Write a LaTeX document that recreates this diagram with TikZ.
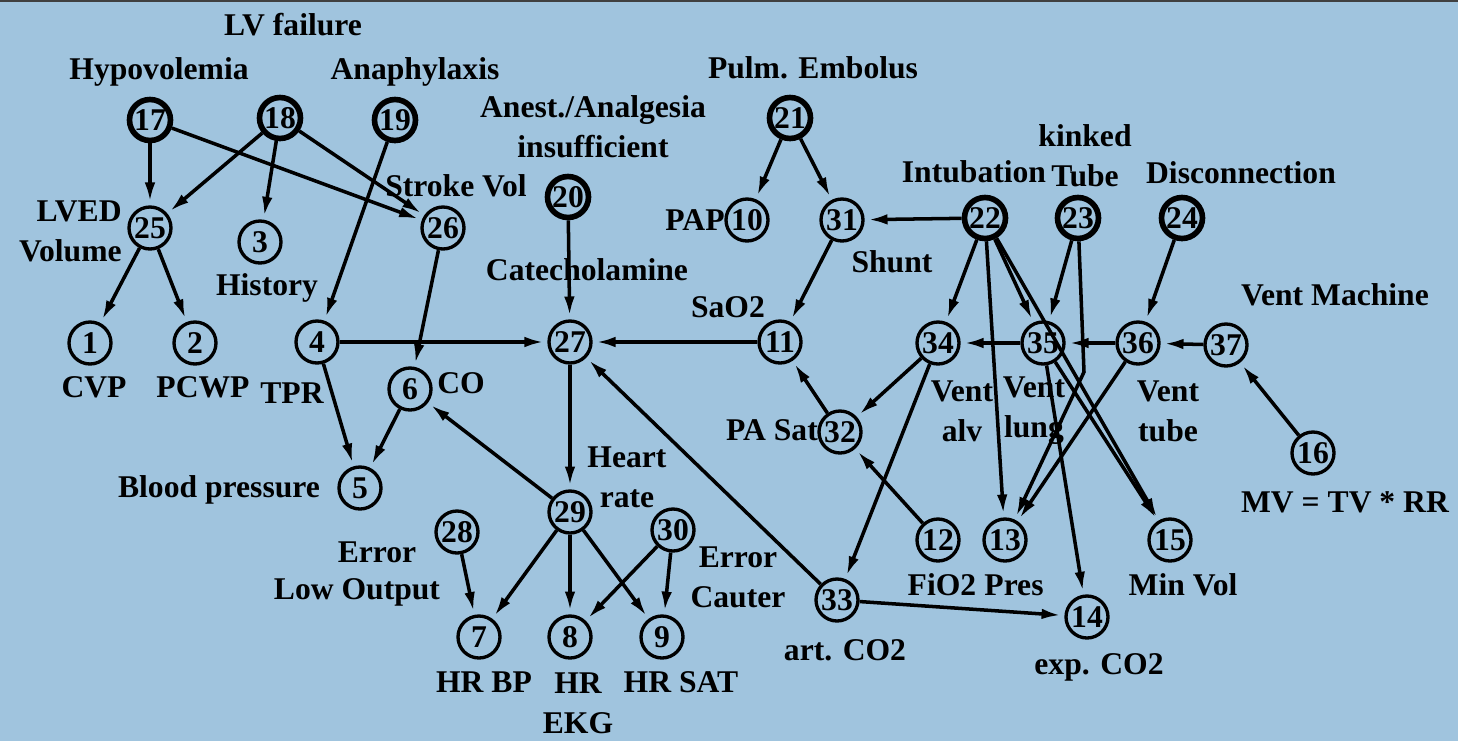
\documentclass[tikz,border=0pt]{standalone}
\usepackage{fontspec}
\setmainfont{Liberation Serif}
\usetikzlibrary{arrows.meta}
\definecolor{scanblue}{RGB}{160,196,222}
\newcommand{\lblfont}{\fontsize{18}{22.7}\selectfont\bfseries}
\newcommand{\numfont}{\fontsize{18}{20}\selectfont\bfseries}
\tikzset{
  root/.style={circle,draw,line width=3.2pt,minimum size=0.82cm,inner sep=0pt,font=\numfont},
  var/.style={circle,draw,line width=1.9pt,minimum size=0.84cm,inner sep=0pt,font=\numfont},
  lbl/.style={inner sep=0pt,font=\lblfont},
  arr/.style={->,line width=2pt,shorten >=2pt},
  >={Latex[length=11pt,width=6pt]}
}

\begin{document}
\begin{tikzpicture}[x=0.02cm,y=-0.02cm]
    % paper
    \useasboundingbox (0,0) rectangle (1458,741);
    \fill[scanblue] (0,0) rectangle (1458,741);
    \draw[black!75,line width=1.2pt] (0,1) -- (1458,1);
    % root causes
    \node[root] (v17) at (150,120) {17};
    \node[root] (v18) at (280,118) {18};
    \node[root] (v19) at (395,120) {19};
    \node[root] (v20) at (568,197) {20};
    \node[root] (v21) at (790,118) {21};
    \node[root] (v22) at (985,218) {22};
    \node[root] (v23) at (1078,218) {23};
    \node[root] (v24) at (1182,218) {24};
    % heart side
    \node[var] (v25) at (150,228) {25};
    \node[var] (v26) at (443,228) {26};
    \node[var] (v3) at (260,242) {3};
    \node[var] (v1) at (90,343) {1};
    \node[var] (v2) at (195,343) {2};
    \node[var] (v4) at (317,342) {4};
    \node[var] (v6) at (410,389) {6};
    \node[var] (v5) at (360,488) {5};
    \node[var] (v27) at (570,342) {27};
    \node[var] (v29) at (570,512) {29};
    \node[var] (v28) at (457,532) {28};
    \node[var] (v30) at (673,530) {30};
    \node[var] (v7) at (479,637) {7};
    \node[var] (v8) at (570,637) {8};
    \node[var] (v9) at (662,637) {9};
    % lung side
    \node[var] (v10) at (747,220) {10};
    \node[var] (v31) at (842,220) {31};
    \node[var] (v11) at (780,342) {11};
    \node[var] (v32) at (840,432) {32};
    \node[var] (v33) at (837,600) {33};
    \node[var] (v12) at (938,540) {12};
    \node[var] (v13) at (1005,540) {13};
    \node[var] (v14) at (1087,617) {14};
    \node[var] (v15) at (1170,540) {15};
    \node[var] (v34) at (938,343) {34};
    \node[var] (v35) at (1043,343) {35};
    \node[var] (v36) at (1138,343) {36};
    \node[var] (v37) at (1226,345) {37};
    \node[var] (v16) at (1313,453) {16};
    \coordinate (k23) at (1084,372);

    % names
    \node[lbl] (tLVF) at (293,25) {LV failure};
    \node[lbl] (tHypo) at (159,72) {Hypovolemia};
    \node[lbl] (tAna) at (415,72) {Anaphylaxis};
    \node[lbl,align=center] (tAnest) at (593,127) {Anest./Analgesia\\insufficient};
    \node[lbl] (tPE) at (813,68) {Pulm. Embolus};
    \node[lbl,align=center] (tKink) at (1085,156) {kinked\\Tube};
    \node[lbl] (tIntub) at (974,172) {Intubation};
    \node[lbl] (tDisc) at (1241,173) {Disconnection};
    \node[lbl] (tVMach) at (1335,295) {Vent Machine};
    \node[lbl,align=right,anchor=east] (tLVED) at (122,231) {LVED\\Volume};
    \node[lbl] (tSV) at (456,186) {Stroke Vol};
    \node[lbl] (tHist) at (267,288) {History};
    \node[lbl] (tCVP) at (94,387) {CVP};
    \node[lbl] (tPCWP) at (203,387) {PCWP};
    \node[lbl] (tTPR) at (292,393) {TPR};
    \node[lbl] (tCO) at (461,383) {CO};
    \node[lbl] (tBP) at (219,490) {Blood pressure};
    \node[lbl] (tCat) at (587,270) {Catecholamine};
    \node[lbl] (tSaO) at (728,307) {SaO2};
    \node[lbl] (tPAP) at (695,220) {PAP};
    \node[lbl] (tShunt) at (892,262) {Shunt};
    \node[lbl,align=center] (tVAlv) at (962,411) {Vent\\alv};
    \node[lbl,align=center] (tVLung) at (1034,411) {Vent\\lung};
    \node[lbl,align=center] (tVTube) at (1168,411) {Vent\\tube};
    \node[lbl] (tPASat) at (772,430) {PA Sat};
    \node[lbl,align=center] (tHR) at (627,477) {Heart\\rate};
    \node[lbl] (tErrL) at (377,552) {Error};
    \node[lbl] (tLow) at (357,592) {Low Output};
    \node[lbl,align=center] (tErrC) at (738,577) {Error\\Cauter};
    \node[lbl] (tHRBP) at (484,682) {HR BP};
    \node[lbl,align=center] (tEKG) at (578,703) {HR\\EKG};
    \node[lbl] (tHRSat) at (681,682) {HR SAT};
    \node[lbl] (tArt) at (845,650) {art. CO2};
    \node[lbl] (tFiO) at (942,585) {FiO2};
    \node[lbl] (tPres) at (1014,585) {Pres};
    \node[lbl] (tMinV) at (1183,585) {Min Vol};
    \node[lbl] (tExp) at (1099,667) {exp. CO2};
    \node[lbl] (tMV) at (1345,502) {MV = TV * RR};

    % heart arcs
    \draw[arr] (v17) -- (v25);
    \draw[arr] (v17) -- (v26);
    \draw[arr] (v18) -- (v25);
    \draw[arr] (v18) -- (v3);
    \draw[arr] (v18) -- (v26);
    \draw[arr] (v19) -- (v4);
    \draw[arr] (v25) -- (v1);
    \draw[arr] (v25) -- (v2);
    \draw[arr] (v26) -- (v6);
    \draw[arr] (v4) -- (v5);
    \draw[arr] (v6) -- (v5);
    \draw[arr] (v4) -- (v27);
    \draw[arr] (v20) -- (v27);
    \draw[arr] (v11) -- (v27);
    \draw[arr] (v33) -- (v27);
    \draw[arr] (v27) -- (v29);
    \draw[arr] (v29) -- (v6);
    \draw[arr] (v29) -- (v7);
    \draw[arr] (v29) -- (v8);
    \draw[arr] (v29) -- (v9);
    \draw[arr] (v28) -- (v7);
    \draw[arr] (v30) -- (v8);
    \draw[arr] (v30) -- (v9);
    % lung arcs
    \draw[arr] (v21) -- (v10);
    \draw[arr] (v21) -- (v31);
    \draw[arr] (v22) -- (v31);
    \draw[arr] (v31) -- (v11);
    \draw[arr] (v32) -- (v11);
    \draw[arr] (v34) -- (v32);
    \draw[arr] (v12) -- (v32);
    \draw[arr] (v34) -- (v33);
    \draw[arr] (v33) -- (v14);
    \draw[arr] (v22) -- (v34);
    \draw[arr] (v22) -- (v35);
    \draw[arr] (v22) -- (v13);
    \draw[arr] (v22) -- (v15);
    \draw[arr] (v23) -- (v35);
    \draw[arr] (v23) -- (k23) -- (v13);
    \draw[arr] (v24) -- (v36);
    \draw[arr] (v35) -- (v34);
    \draw[arr] (v36) -- (v35);
    \draw[arr] (v37) -- (v36);
    \draw[arr] (v16) -- (v37);
    \draw[arr] (v36) -- (v13);
    \draw[arr] (v35) -- (v14);
    \draw[arr] (v35) -- (v15);
\end{tikzpicture}
\end{document}
